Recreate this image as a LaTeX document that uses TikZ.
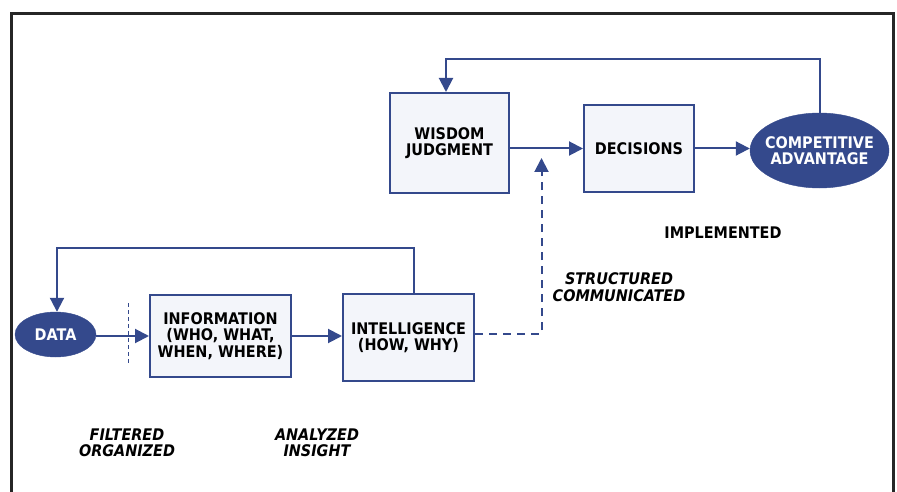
\documentclass[tikz,border=0pt]{standalone}
\usepackage{fontspec}
\setmainfont{DejaVu Sans}[FakeStretch=0.9]
\usetikzlibrary{shapes.geometric,arrows.meta}
\definecolor{navy}{RGB}{52,73,140}
\definecolor{boxfill}{RGB}{243,245,250}
\tikzset{
  txt/.style={font=\fontsize{16}{16.5}\selectfont\bfseries},
  stepbox/.style={draw=navy, line width=2pt, fill=boxfill, align=center, inner sep=0pt, txt},
  ovalnode/.style={ellipse, fill=navy, draw=navy, inner sep=0pt},
  ovaltext/.style={text=white, align=center, inner sep=0pt, txt},
  arr/.style={draw=navy, line width=2pt, -{Triangle[length=14pt,width=14pt]}},
  dasharr/.style={arr, line width=2pt, dash pattern=on 8pt off 6pt},
  tag/.style={align=center, txt, font=\fontsize{16}{16.5}\selectfont\bfseries\itshape},
  plaintag/.style={align=center, txt}
}
\begin{document}
\begin{tikzpicture}[x=1pt,y=-1pt]
\useasboundingbox (0,0) rectangle (897,492);
% frame
\draw[line width=3pt, black!85] (11.5,492) -- (11.5,13.5) -- (893,13.5) -- (893,492);

% nodes
\node[ovalnode, minimum width=81pt, minimum height=45pt] (data) at (55.5,334.5) {};
\node[ovaltext] (datat) at (data) {DATA};
\node[stepbox, minimum width=141pt, minimum height=82pt] (info) at (220.5,336) {INFORMATION\\(WHO, WHAT,\\WHEN, WHERE)};
\node[stepbox, minimum width=131pt, minimum height=87pt] (intel) at (408.5,337.5) {INTELLIGENCE\\(HOW, WHY)};
\node[stepbox, minimum width=119pt, minimum height=100pt] (wisdom) at (449.5,143) {WISDOM\\JUDGMENT};
\node[stepbox, minimum width=110pt, minimum height=87pt] (decisions) at (639,148.5) {DECISIONS};
\node[ovalnode, minimum width=139pt, minimum height=75pt] (comp) at (819.5,150.5) {};
\node[ovaltext] (compt) at (comp) {COMPETITIVE\\ADVANTAGE};

% labels
\node[tag] (filt) at (127,443) {FILTERED\\ORGANIZED};
\node[tag] (anal) at (317,443) {ANALYZED\\INSIGHT};
\node[tag] (struct) at (619,287) {STRUCTURED\\COMMUNICATED};
\node[plaintag] (impl) at (723,233) {IMPLEMENTED};

% connectors
\draw[arr] (data.east |- info.west) -- (info.west);
\draw[arr] (info.east) -- (info.east -| intel.west);
\draw[arr] ([xshift=5.5pt]intel.north) -- ++(0,-45) -| ([xshift=1.5pt]data.north);
\draw[arr] (wisdom.east |- decisions.west) -- (decisions.west);
\draw[arr] (decisions.east) -- (decisions.east -| comp.west);
\draw[arr] (comp.north) -- ++(0,-54) -| ([xshift=-3.5pt]wisdom.north);
\coordinate (dtip) at (541.5,158);
\draw[dasharr] ([yshift=4pt]intel.east) -| (dtip);

% thin dashed marker
\draw[navy, line width=1pt, dash pattern=on 4pt off 3pt] (128,303) -- (128,365);
\end{tikzpicture}
\end{document}
